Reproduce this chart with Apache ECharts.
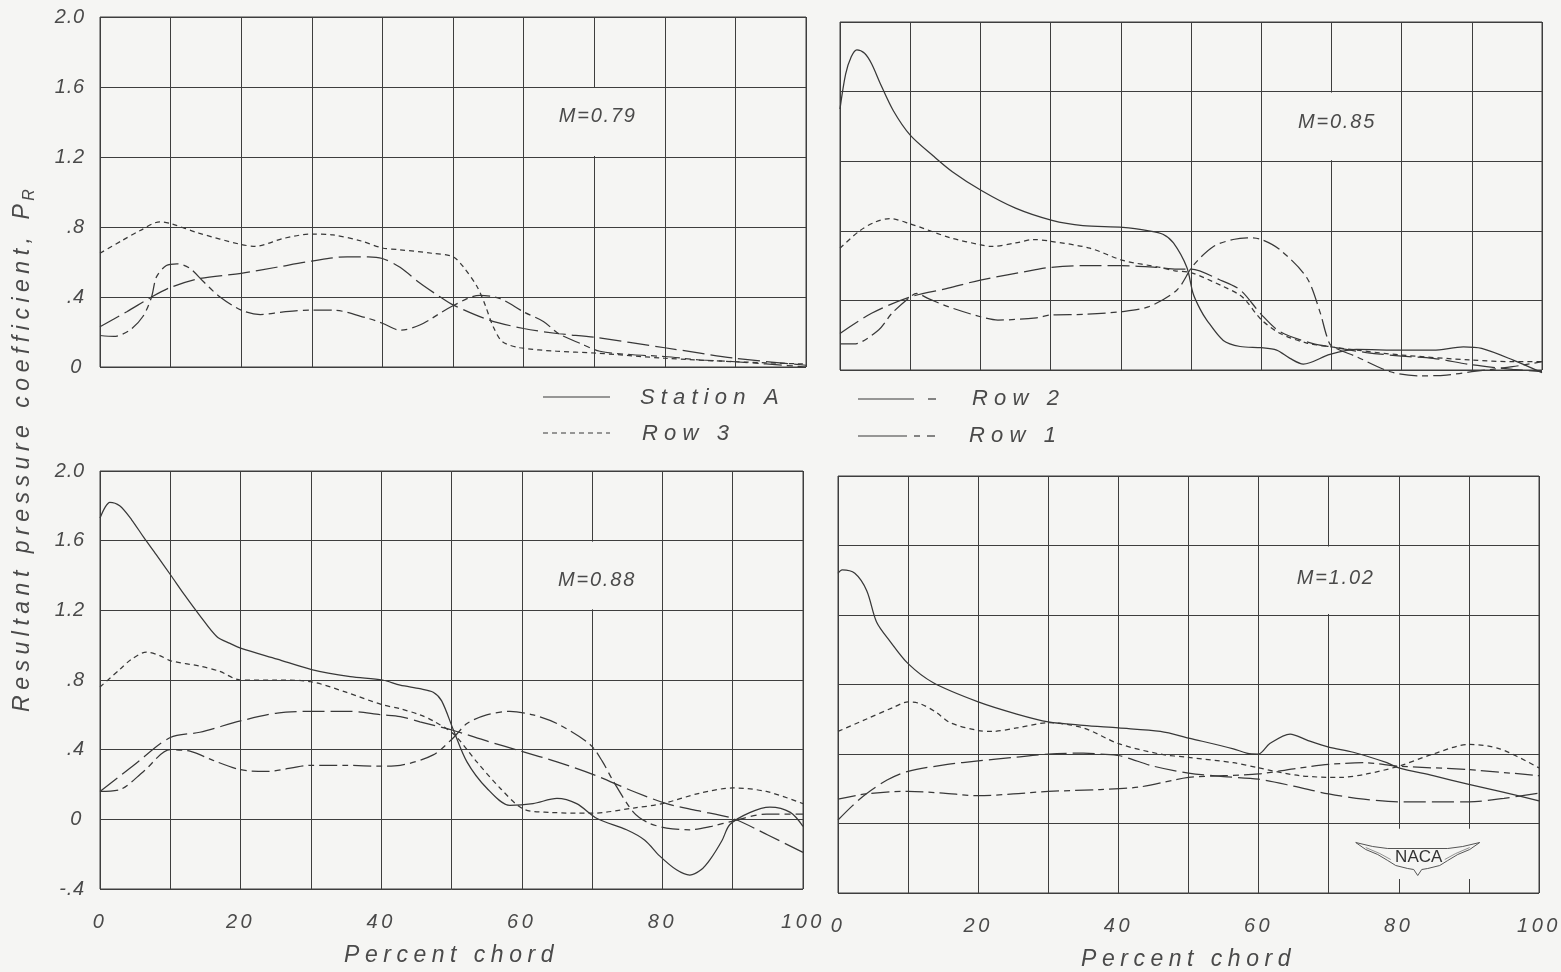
<!DOCTYPE html>
<html>
<head>
<meta charset="utf-8">
<script src="https://cdn.jsdelivr.net/npm/echarts@6/dist/echarts.min.js"></script>
<style>
html,body{margin:0;padding:0;background:#f5f5f3;}
#chart{width:1561px;height:972px;}
</style>
</head>
<body>
<div id="chart"></div>
<script>
// ---------------- DATA ----------------
const panelTitles = ['M=0.79', 'M=0.85', 'M=0.88', 'M=1.02'];
const xTickLabels = ['0', '20', '40', '60', '80', '100'];
const yTickLabelsTop = ['0', '.4', '.8', '1.2', '1.6', '2.0'];
const yTickLabelsBottom = ['-.4', '0', '.4', '.8', '1.2', '1.6', '2.0'];
const legendNames = ['Station A', 'Row 3', 'Row 2', 'Row 1'];
const xAxisTitle = 'Percent chord';
const yAxisTitle = 'Resultant pressure coefficient, P';
const yAxisTitleSub = 'R';

// M = 0.79 (no Station A curve drawn)
const m079_row3 = [[0,0.65],[3,0.72],[5.7,0.78],[8.5,0.83],[10,0.82],[14,0.765],[20,0.70],[22,0.69],[26,0.735],[30,0.76],[33,0.755],[37,0.72],[40,0.68],[42.5,0.67],[47,0.65],[50,0.63],[51.5,0.57],[53.4,0.46],[54.5,0.36],[55.7,0.23],[57,0.145],[59.5,0.11],[64.7,0.09],[70,0.08],[80,0.05],[90,0.03],[100,0.017]];
const m079_row2 = [[0,0.23],[3.8,0.316],[7.3,0.40],[10,0.455],[14,0.505],[20,0.535],[25,0.57],[30,0.605],[35,0.63],[38,0.63],[40,0.62],[42.5,0.57],[45.3,0.48],[48.2,0.40],[50,0.355],[55,0.27],[60,0.22],[65,0.19],[70,0.17],[80,0.11],[90,0.05],[100,0.01]];
const m079_row1 = [[0,0.18],[2,0.175],[4.2,0.21],[6.1,0.29],[7.3,0.40],[8,0.515],[9.4,0.58],[10.9,0.59],[12.7,0.565],[14.6,0.49],[17,0.40],[20,0.325],[22.7,0.30],[26,0.315],[30,0.325],[33,0.325],[37.8,0.28],[40,0.25],[42.5,0.21],[45.3,0.24],[50,0.35],[53.8,0.41],[56.7,0.39],[60,0.315],[62.8,0.26],[65,0.19],[68,0.135],[70.8,0.09],[75.5,0.07],[80,0.06],[85,0.04],[90,0.03],[100,0.0]];

// M = 0.85
const m085_stationA = [[0,1.50],[0.8,1.70],[1.6,1.80],[2.4,1.84],[3.5,1.82],[4.5,1.76],[5.7,1.65],[7.6,1.49],[10,1.35],[13.3,1.23],[16,1.14],[20.2,1.03],[25,0.93],[30.2,0.86],[34.6,0.83],[40.3,0.82],[44,0.80],[46,0.78],[47.5,0.73],[49.4,0.59],[50.3,0.44],[51.3,0.35],[52.2,0.29],[54.6,0.17],[57,0.135],[60,0.128],[62.2,0.114],[64.1,0.067],[66,0.034],[69.8,0.09],[73.6,0.118],[80,0.114],[84.5,0.114],[88.8,0.133],[91.4,0.124],[95.9,0.057],[100,-0.015]];
const m085_row3 = [[0,0.70],[2.8,0.80],[5,0.85],[7.1,0.87],[10,0.84],[15.7,0.76],[20,0.72],[21.5,0.71],[25,0.73],[27.6,0.75],[30,0.74],[35.6,0.70],[40.3,0.63],[45.6,0.59],[47.7,0.57],[50,0.56],[54.6,0.48],[57,0.43],[58,0.39],[60,0.29],[62.7,0.21],[66.5,0.155],[70,0.133],[73.6,0.114],[80,0.086],[90,0.057],[95.8,0.048],[100,0.048]];
const m085_row2 = [[0,0.21],[4.5,0.326],[10,0.42],[15.4,0.47],[20,0.517],[27.7,0.575],[30,0.59],[35,0.60],[40,0.60],[45,0.59],[48,0.58],[50,0.58],[54,0.52],[57,0.46],[60,0.32],[62.7,0.22],[67.5,0.15],[70,0.133],[75,0.10],[80,0.08],[84.5,0.067],[90,0.03],[95.8,0.004],[100,-0.01]];
const m085_row1 = [[0,0.15],[2,0.15],[5.5,0.23],[7.4,0.326],[10,0.42],[10.9,0.44],[12.6,0.41],[15.4,0.364],[20,0.306],[22.5,0.287],[28,0.30],[30,0.316],[35,0.32],[40,0.335],[44,0.364],[48,0.46],[50.3,0.60],[53.2,0.71],[56,0.75],[58,0.76],[60,0.75],[62.7,0.69],[66.5,0.53],[68.4,0.33],[69.3,0.20],[70,0.14],[73.6,0.076],[78.4,-0.01],[82.6,-0.034],[86.4,-0.029],[90,-0.01],[95.8,0.019],[100,0.048]];

// M = 0.88
const m088_stationA = [[0,1.73],[0.7,1.79],[1.4,1.82],[2.8,1.80],[4.5,1.72],[6.2,1.62],[8,1.52],[10.1,1.40],[12,1.29],[14.2,1.17],[16.6,1.05],[18.5,1.01],[20.2,0.98],[25.2,0.92],[30.1,0.86],[35.6,0.82],[40.2,0.80],[42.7,0.77],[45.5,0.75],[47.4,0.73],[48.6,0.68],[50.3,0.51],[52.2,0.33],[55,0.18],[58.3,0.08],[61.6,0.09],[65,0.12],[67.8,0.09],[70.7,0.005],[74.9,-0.06],[77.5,-0.12],[79.6,-0.21],[82,-0.29],[83.9,-0.32],[85.5,-0.29],[86.8,-0.23],[88.5,-0.12],[89.6,-0.03],[92.5,0.04],[95.3,0.07],[98.2,0.04],[100,-0.04]];
const m088_row3 = [[0,0.76],[2.8,0.86],[4.5,0.92],[6.6,0.96],[8.5,0.94],[10.1,0.91],[14.2,0.88],[17,0.85],[20,0.80],[25,0.80],[30,0.79],[35,0.73],[40,0.66],[42.7,0.635],[45.5,0.60],[47.4,0.565],[50.3,0.49],[53.6,0.33],[56.9,0.18],[60.2,0.06],[64,0.04],[70,0.035],[75.9,0.065],[80,0.09],[85.3,0.15],[90,0.18],[94.8,0.16],[100,0.09]];
const m088_row2 = [[0,0.16],[4.8,0.31],[10,0.47],[14.2,0.50],[20,0.565],[25.2,0.61],[30,0.62],[35.6,0.62],[40,0.60],[42.7,0.59],[45.5,0.56],[50.3,0.51],[55,0.45],[60,0.39],[65,0.33],[70,0.26],[75.9,0.16],[80.6,0.09],[85,0.05],[90,0.005],[95,-0.09],[100,-0.19]];
const m088_row1 = [[0,0.16],[2.8,0.17],[6.2,0.275],[10,0.40],[12.9,0.39],[16,0.34],[20,0.285],[23.7,0.275],[30,0.31],[35,0.31],[40,0.305],[42.7,0.31],[47.4,0.37],[50.3,0.47],[52.2,0.55],[55,0.60],[58.3,0.62],[61.6,0.60],[65,0.55],[69.7,0.43],[71.5,0.33],[73,0.22],[75.9,0.04],[78,-0.02],[80.6,-0.05],[83.9,-0.06],[87,-0.04],[90,-0.01],[94.8,0.03],[100,0.03]];

// M = 1.02
const m102_stationA = [[0,1.44],[0.6,1.46],[2.4,1.44],[4.1,1.34],[5.5,1.16],[7.4,1.05],[10,0.92],[13.6,0.81],[20,0.70],[25.5,0.63],[30,0.585],[35,0.565],[40,0.55],[46,0.53],[50.2,0.49],[56.4,0.43],[58.3,0.405],[60,0.40],[61.6,0.46],[64.5,0.515],[66.9,0.48],[70,0.44],[73.5,0.41],[78.3,0.35],[80,0.32],[84.9,0.275],[90,0.225],[94.4,0.185],[100,0.13]];
const m102_row3 = [[0,0.53],[4,0.60],[8,0.67],[10,0.70],[11.7,0.69],[14,0.64],[16,0.58],[20,0.535],[22,0.53],[25.5,0.55],[30,0.58],[35,0.55],[40,0.46],[45.9,0.40],[50,0.38],[56.4,0.35],[60,0.32],[65.9,0.275],[71.6,0.265],[75.4,0.285],[80,0.33],[84.9,0.40],[90,0.455],[94.4,0.43],[100,0.32]];
const m102_row2 = [[0,0.02],[2,0.10],[4,0.17],[7,0.25],[10,0.30],[15.6,0.34],[20,0.36],[25,0.38],[30,0.40],[35,0.405],[37.4,0.40],[40.2,0.39],[45,0.33],[50,0.29],[55,0.27],[60,0.255],[65,0.215],[70,0.17],[75,0.14],[80,0.125],[90,0.125],[95,0.145],[100,0.175]];
const m102_row1 = [[0,0.14],[4,0.17],[10,0.185],[15,0.175],[20,0.16],[25,0.17],[30,0.185],[37.4,0.195],[43,0.21],[50,0.265],[55,0.275],[60,0.285],[65,0.315],[70,0.34],[75,0.35],[80,0.33],[90,0.31],[100,0.275]];

// ---------------- STYLE ----------------
const BG = '#f5f5f3';
const GRIDC = '#3e3e3e';
const CURVE = '#383838';
const TXT = '#4a4a4a';
const FONT = "'Liberation Sans', Arial, sans-serif";

// wide, hand-lettered spacing for canvas text
(function () {
  const proto = CanvasRenderingContext2D.prototype;
  const orig = proto.fillText;
  proto.fillText = function (t, x, y, w) {
    try {
      const m = /(\d+(?:\.\d+)?)px/.exec(this.font);
      const fs = m ? parseFloat(m[1]) : 12;
      const s = String(t);
      let r = 0.24;
      if (/^-?[\d.]+$/.test(s)) r = s.indexOf('.') >= 0 ? 0.04 : 0.18;
      else if (legendNames.indexOf(s) >= 0) r = 0.28;
      else if (s.indexOf('M=') === 0) r = 0.09;
      else if (s === 'NACA') r = 0;
      this.letterSpacing = (r * fs).toFixed(2) + 'px';
    } catch (e) {}
    return w === undefined ? orig.call(this, t, x, y) : orig.call(this, t, x, y, w);
  };
})();

const chart = echarts.init(document.getElementById('chart'), null, { renderer: 'canvas' });

const grids = [
  { left: 100, top: 17, width: 706, height: 350 },
  { left: 840, top: 22, width: 702, height: 348 },
  { left: 100, top: 471, width: 703, height: 418 },
  { left: 838, top: 476, width: 701, height: 418 }
].map(g => Object.assign(g, { show: true, borderColor: GRIDC, borderWidth: 1, backgroundColor: 'transparent' }));

const panels = [
  { series: [['Row 3', m079_row3], ['Row 2', m079_row2], ['Row 1', m079_row1]] },
  { series: [['Station A', m085_stationA], ['Row 3', m085_row3], ['Row 2', m085_row2], ['Row 1', m085_row1]] },
  { series: [['Station A', m088_stationA], ['Row 3', m088_row3], ['Row 2', m088_row2], ['Row 1', m088_row1]] },
  { series: [['Station A', m102_stationA], ['Row 3', m102_row3], ['Row 2', m102_row2], ['Row 1', m102_row1]] }
];

const dashFor = {
  'Station A': 'solid',
  'Row 3': [5, 4],
  'Row 2': [22, 6],
  'Row 1': [18, 5, 6, 5]
};

const labelBase = { fontFamily: FONT, fontStyle: 'italic', color: TXT };

const xAxes = grids.map((g, i) => ({
  type: 'value', gridIndex: i, min: 0, max: 100, interval: 10,
  axisLine: { show: false }, axisTick: { show: false },
  splitLine: { show: true, lineStyle: { color: GRIDC, width: 1 } },
  axisLabel: Object.assign({
    show: i >= 2, fontSize: 20, margin: 23,
    formatter: v => (Math.round(v) % 20 === 0 ? xTickLabels[Math.round(v) / 20] : '')
  }, labelBase),
  name: i >= 2 ? xAxisTitle : '',
  nameLocation: 'middle', nameGap: 55,
  nameTextStyle: Object.assign({ fontSize: 23 }, labelBase)
}));

const yAxes = grids.map((g, i) => {
  const bottom = i >= 2;
  const min = bottom ? -0.4 : 0;
  const labels = bottom ? yTickLabelsBottom : yTickLabelsTop;
  return {
    type: 'value', gridIndex: i, min: min, max: 2.0, interval: 0.4,
    axisLine: { show: false }, axisTick: { show: false },
    splitLine: { show: true, lineStyle: { color: GRIDC, width: 1 } },
    axisLabel: Object.assign({
      show: i === 0 || i === 2, fontSize: 20, margin: 15,
      formatter: v => labels[Math.round((v - min) / 0.4)]
    }, labelBase)
  };
});

const series = [];
panels.forEach((p, i) => {
  p.series.forEach(([name, data]) => {
    series.push({
      type: 'line', name: name, xAxisIndex: i, yAxisIndex: i, data: data,
      showSymbol: false, symbol: 'none', smooth: 0.3,
      clip: false, silent: true,
      lineStyle: { color: CURVE, width: 1.25, type: dashFor[name] }
    });
  });
});

chart.setOption({
  backgroundColor: BG,
  animation: false,
  grid: grids,
  xAxis: xAxes,
  yAxis: yAxes,
  series: series
});

// ---------------- ANNOTATIONS ----------------
const px = (i, x, y) => chart.convertToPixel({ gridIndex: i }, [x, y]);
const gfx = [];
const txt = (x, y, text, size, align, extra) => Object.assign({
  type: 'text', x: x, y: y, z: 100, silent: true,
  style: { text: text, fill: TXT, fontSize: size, fontFamily: FONT, fontStyle: 'italic',
           align: align || 'center', verticalAlign: 'middle' }
}, extra || {});

const titlePos = [[70.5, 1.43], [70.8, 1.42], [70.7, 1.37], [71, 1.41]];
panelTitles.forEach((t, i) => {
  // gap in the 70% grid line between 1.2 and 1.6
  const a = px(i, 70, 1.6), b = px(i, 70, 1.2);
  gfx.push({ type: 'rect', z: 99, silent: true,
    shape: { x: a[0] - 2, y: a[1] + 1, width: 4, height: b[1] - a[1] - 2 },
    style: { fill: BG } });
  const c = px(i, titlePos[i][0], titlePos[i][1]);
  gfx.push(txt(c[0], c[1], t, 20));
});

// legend
const lg = (x1, x2, y, dash) => ({ type: 'line', z: 100, silent: true,
  shape: { x1: x1, y1: y, x2: x2, y2: y },
  style: { stroke: CURVE, lineWidth: 1.2, lineDash: dash || null } });
gfx.push(lg(543, 610, 397));
gfx.push(txt(640, 398, legendNames[0], 22, 'left'));
gfx.push(lg(543, 610, 433, [5, 4]));
gfx.push(txt(642, 434, legendNames[1], 22, 'left'));
gfx.push(lg(858, 914, 399));
gfx.push(lg(928, 936, 399));
gfx.push(txt(972, 399, legendNames[2], 22, 'left'));
gfx.push(lg(858, 907, 436));
gfx.push(lg(914, 920, 436));
gfx.push(lg(927, 935, 436));
gfx.push(txt(969, 436, legendNames[3], 22, 'left'));

// y-axis title (rotated) with subscript
(function () {
  const fs = 23;
  const c = document.createElement('canvas').getContext('2d');
  c.font = 'italic ' + fs + 'px ' + FONT;
  try { c.letterSpacing = (0.24 * fs).toFixed(2) + 'px'; } catch (e) {}
  const w = c.measureText(yAxisTitle).width;
  const y0 = 712;
  gfx.push(txt(23, y0, yAxisTitle, fs, 'left', { rotation: Math.PI / 2 }));
  gfx.push(txt(30, y0 - w + 2, yAxisTitleSub, 16, 'left', { rotation: Math.PI / 2 }));
})();

// NACA emblem (decoration) in lower-right panel
(function () {
  const g1 = px(3, 79.6, -0.03), g2 = px(3, 90.4, -0.32);
  gfx.push({ type: 'rect', z: 99, silent: true,
    shape: { x: g1[0], y: g1[1], width: g2[0] - g1[0], height: g2[1] - g1[1] },
    style: { fill: BG } });
  const c = px(3, 82.7, -0.19);
  const cx = c[0], cy = c[1];
  const pts = [[-62,-14],[-45,-10],[-30,-8],[30,-8],[45,-10],[62,-14],[52,-7],[40,-2],[30,4],[22,9],[10,12],[4,13],[0,19],[-4,13],[-10,12],[-22,9],[-30,4],[-40,-2],[-52,-7]];
  gfx.push({ type: 'polygon', z: 100, silent: true,
    shape: { points: pts.map(p => [cx + p[0], cy + p[1]]) },
    style: { fill: BG, stroke: '#555', lineWidth: 1 } });
  gfx.push({ type: 'polyline', z: 101, silent: true,
    shape: { points: [[cx-52,cy-9],[cx-38,cy-3],[cx-27,cy+3]] },
    style: { stroke: '#777', lineWidth: 0.8, fill: null } });
  gfx.push({ type: 'polyline', z: 101, silent: true,
    shape: { points: [[cx+52,cy-9],[cx+38,cy-3],[cx+27,cy+3]] },
    style: { stroke: '#777', lineWidth: 0.8, fill: null } });
  gfx.push({ type: 'text', x: cx + 1, y: cy + 1, z: 102, silent: true,
    style: { text: 'NACA', fill: '#333', fontSize: 17, fontFamily: FONT, fontWeight: 'normal',
             align: 'center', verticalAlign: 'middle' } });
})();

chart.setOption({ graphic: { elements: gfx } });
</script>
</body>
</html>
